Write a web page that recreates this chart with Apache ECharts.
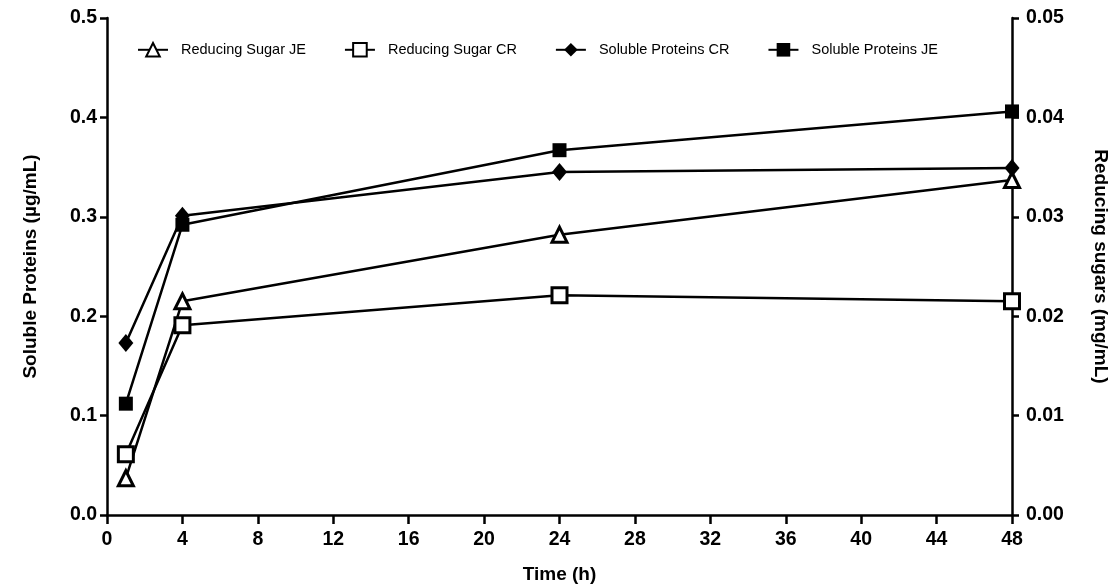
<!DOCTYPE html>
<html>
<head>
<meta charset="utf-8">
<script src="https://cdn.jsdelivr.net/npm/echarts@6/dist/echarts.min.js"></script>
<style>
  html, body { margin: 0; padding: 0; background: #fff; }
  #chart { width: 1116px; height: 587px; }
</style>
</head>
<body>
<div id="chart"></div>
<script>
// time points (h)
var times = [1, 4, 24, 48];
// reducing sugars (mg/mL), right axis
var sugarJE = [0.0037, 0.0215, 0.0282, 0.0337];
var sugarCR = [0.0061, 0.0191, 0.0221, 0.0215];
// soluble proteins (ug/mL), left axis
var protCR = [0.173, 0.301, 0.345, 0.349];
var protJE = [0.112, 0.292, 0.367, 0.406];

var names = ['Reducing Sugar JE', 'Reducing Sugar CR', 'Soluble Proteins CR', 'Soluble Proteins JE'];

function pairs(vals) {
  return times.map(function (t, i) { return [t, vals[i]]; });
}

var myChart = echarts.init(document.getElementById('chart'));

var font = 'Liberation Sans, Arial, sans-serif';
var axisLbl = { color: '#000', fontFamily: font, fontSize: 19.5, fontWeight: 'bold' };
var axisNm = { color: '#000', fontFamily: font, fontSize: 19, fontWeight: 'bold' };
var lineW = 2.5;

function mkSeries(name, vals, axis, symbol, size, fill) {
  return {
    name: name,
    type: 'line',
    yAxisIndex: axis,
    data: pairs(vals),
    symbol: symbol,
    symbolSize: size,
    showAllSymbol: true,
    lineStyle: { color: '#000', width: lineW },
    itemStyle: { color: fill, borderColor: '#000', borderWidth: fill === '#fff' ? 3 : 0 },
    emphasis: { disabled: true },
    z: 3
  };
}

var option = {
  animation: false,
  grid: { left: 107, right: 104, top: 18, bottom: 72, outerBoundsMode: 'none' },
  legend: {
    data: names,
    left: 132,
    top: 37,
    itemWidth: 30,
    itemHeight: 17,
    itemGap: 38,
    textStyle: { color: '#000', fontFamily: font, fontSize: 14.5, padding: [0, 0, 0, 8] }
  },
  xAxis: {
    type: 'value',
    min: 0,
    max: 48,
    interval: 4,
    name: 'Time (h)',
    nameLocation: 'middle',
    nameGap: 50,
    nameTextStyle: axisNm,
    axisLine: { onZero: false, lineStyle: { color: '#000', width: 2.5 } },
    axisTick: { length: 9, lineStyle: { color: '#000', width: 2.5 } },
    axisLabel: Object.assign({ margin: 15 }, axisLbl),
    splitLine: { show: false }
  },
  yAxis: [
    {
      type: 'value',
      position: 'left',
      min: 0,
      max: 0.5,
      interval: 0.1,
      name: 'Soluble Proteins (µg/mL)',
      nameLocation: 'middle',
      nameGap: 67,
      nameTextStyle: axisNm,
      axisLine: { show: true, lineStyle: { color: '#000', width: 2.5 } },
      axisTick: { show: true, length: 7, lineStyle: { color: '#000', width: 2.5 } },
      axisLabel: Object.assign({ margin: 10, formatter: function (v) { return v.toFixed(1); } }, axisLbl),
      splitLine: { show: false }
    },
    {
      type: 'value',
      position: 'right',
      min: 0,
      max: 0.05,
      interval: 0.01,
      name: 'Reducing sugars (mg/mL)',
      nameLocation: 'middle',
      nameRotate: -90,
      nameGap: 79,
      nameTextStyle: axisNm,
      axisLine: { show: true, lineStyle: { color: '#000', width: 2.5 } },
      axisTick: { show: true, length: 7, lineStyle: { color: '#000', width: 2.5 } },
      axisLabel: Object.assign({ margin: 14, formatter: function (v) { return v.toFixed(2); } }, axisLbl),
      splitLine: { show: false }
    }
  ],
  series: [
    mkSeries(names[0], sugarJE, 1, 'triangle', 15, '#fff'),
    mkSeries(names[1], sugarCR, 1, 'rect', 15, '#fff'),
    mkSeries(names[2], protCR, 0, 'diamond', [15, 18], '#000'),
    mkSeries(names[3], protJE, 0, 'rect', 14, '#000')
  ]
};

myChart.setOption(option);
</script>
</body>
</html>
